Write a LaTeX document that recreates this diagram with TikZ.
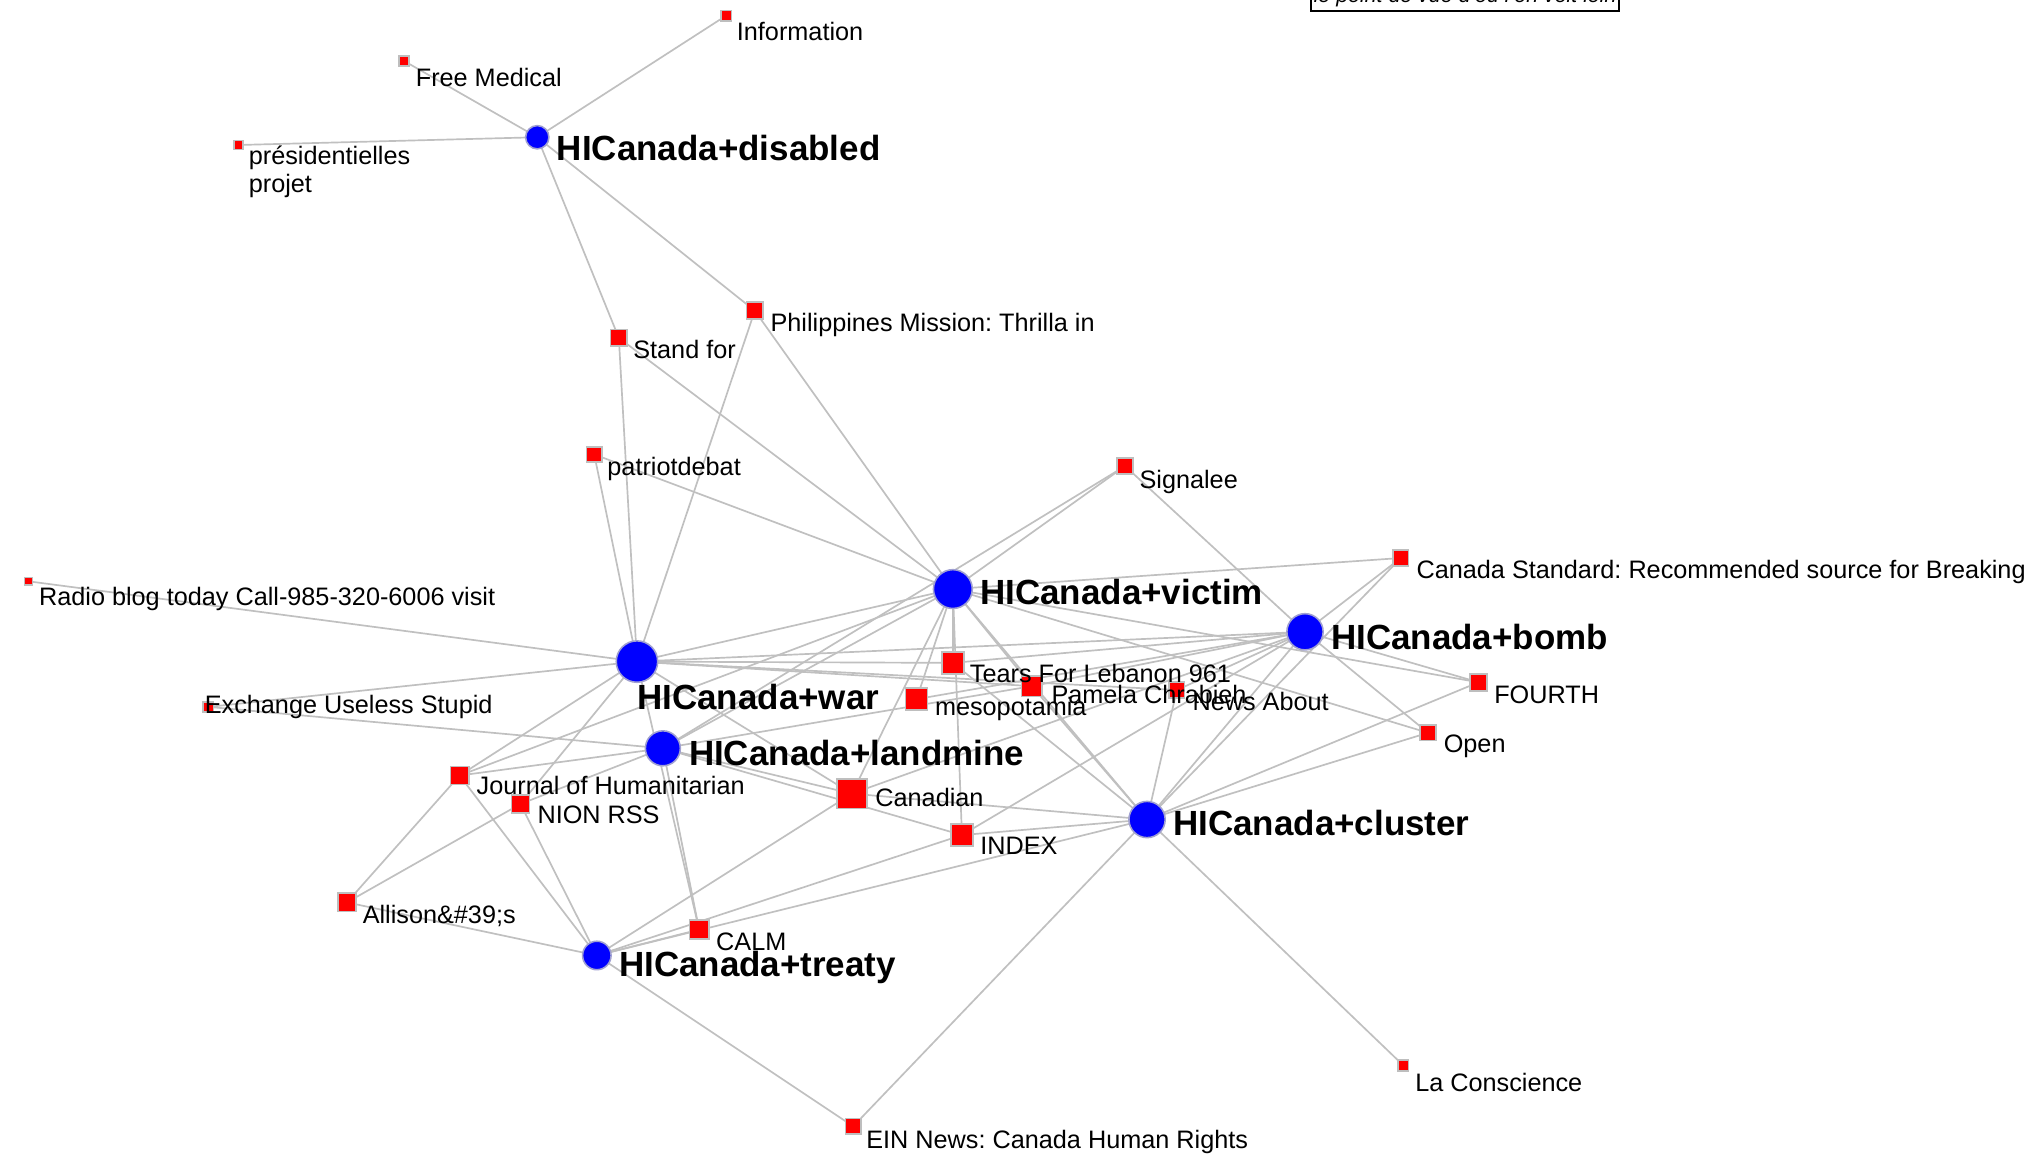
\documentclass[tikz,border=0pt]{standalone}
\usepackage{fontspec}
\setmainfont{Liberation Sans}
\usetikzlibrary{backgrounds}
\definecolor{edgegray}{RGB}{192,192,192}
\definecolor{hubblue}{RGB}{0,0,255}
\definecolor{hubrim}{RGB}{160,160,210}
\definecolor{sqred}{RGB}{255,0,0}
\definecolor{sqrim}{RGB}{190,190,190}
\tikzset{
  hub/.style={circle,fill=hubblue,draw=hubrim,line width=1.2pt,inner sep=0pt},
  sq/.style={rectangle,fill=sqred,draw=sqrim,line width=1.3pt,inner sep=0pt},
  lbl/.style={anchor=base west,inner sep=0pt,font=\fontsize{19.5}{22}\selectfont},
  hublbl/.style={anchor=base west,inner sep=0pt,font=\fontsize{27}{30}\selectfont\bfseries},
  edge/.style={draw=edgegray,line width=1.3pt}
}
\frenchspacing
\begin{document}
\begin{tikzpicture}[x=1pt,y=1pt]
\useasboundingbox (0,0) rectangle (1568,-892);
\clip (0,0) rectangle (1568,-892);
% hubs
\node[hub,minimum size=18] (disabled) at (415,-106) {};
\node[hub,minimum size=30] (victim) at (736,-455) {};
\node[hub,minimum size=28] (bomb) at (1008,-488) {};
\node[hub,minimum size=32] (war) at (492,-511) {};
\node[hub,minimum size=27] (landmine) at (512,-578) {};
\node[hub,minimum size=28] (cluster) at (886,-633) {};
\node[hub,minimum size=22] (treaty) at (461,-738) {};
% squares
\node[sq,minimum size=8] (info) at (561,-12) {};
\node[sq,minimum size=8] (freemed) at (312,-47) {};
\node[sq,minimum size=7] (presid) at (184,-112) {};
\node[sq,minimum size=13] (phil) at (583,-240) {};
\node[sq,minimum size=13] (standfor) at (478,-261) {};
\node[sq,minimum size=12] (patriot) at (459,-351) {};
\node[sq,minimum size=12] (signalee) at (869,-360) {};
\node[sq,minimum size=12] (canstd) at (1082,-431) {};
\node[sq,minimum size=6] (radio) at (22,-449) {};
\node[sq,minimum size=17] (tears) at (736,-512) {};
\node[sq,minimum size=17] (mesop) at (708,-540) {};
\node[sq,minimum size=16] (pamela) at (797,-530) {};
\node[sq,minimum size=12] (news) at (909,-533) {};
\node[sq,minimum size=13] (fourth) at (1142,-527) {};
\node[sq,minimum size=8] (exchange) at (161,-546) {};
\node[sq,minimum size=12] (open) at (1103,-566) {};
\node[sq,minimum size=14] (journal) at (355,-599) {};
\node[sq,minimum size=14] (nion) at (402,-621) {};
\node[sq,minimum size=23] (canadian) at (658,-613) {};
\node[sq,minimum size=17] (index) at (743,-645) {};
\node[sq,minimum size=14] (allison) at (268,-697) {};
\node[sq,minimum size=15] (calm) at (540,-718) {};
\node[sq,minimum size=8] (laconsc) at (1084,-823) {};
\node[sq,minimum size=12] (ein) at (659,-870) {};
% edges
\begin{pgfonlayer}{background}
\fill[white] (0,0) rectangle (1568,-892);
\foreach \a/\b in {
 disabled/info, disabled/freemed, disabled/presid, disabled/standfor, disabled/phil,
 war/radio, war/exchange, war/standfor, war/phil, war/patriot, war/tears, war/pamela, war/news,
 war/canadian, war/journal, war/nion, war/calm, war/victim,
 victim/standfor, victim/phil, victim/patriot, victim/signalee, victim/canstd, victim/tears,
 victim/mesop, victim/canadian, victim/index, victim/landmine, victim/journal, victim/fourth,
 victim/open, victim/cluster, victim/pamela,
 bomb/signalee, bomb/canstd, bomb/fourth, bomb/open, bomb/cluster, bomb/war, bomb/tears,
 bomb/mesop, bomb/pamela, bomb/news, bomb/canadian, bomb/index,
 cluster/canstd, cluster/news, cluster/fourth, cluster/open, cluster/tears, cluster/pamela,
 cluster/canadian, cluster/index, cluster/laconsc, cluster/ein,
 landmine/exchange, landmine/journal, landmine/nion, landmine/calm, landmine/canadian,
 landmine/index, landmine/pamela, landmine/signalee,
 treaty/allison, treaty/journal, treaty/nion, treaty/calm, treaty/canadian, treaty/index,
 treaty/cluster, treaty/ein,
 allison/journal, allison/nion}
 {\draw[edge] (\a.center) -- (\b.center);}
\end{pgfonlayer}
% labels
\node[lbl] (l-info) at (569,-31) {Information};
\node[lbl] (l-freemed) at (321,-67) {Free Medical};
\node[lbl] (l-presid) at (192,-127) {présidentielles};
\node[lbl] (l-presid2) at (192,-149) {projet};
\node[hublbl] (l-disabled) at (430,-124) {HICanada+disabled};
\node[lbl] (l-phil) at (595,-256) {Philippines Mission: Thrilla in};
\node[lbl] (l-standfor) at (489,-277) {Stand for};
\node[lbl] (l-patriot) at (469,-367) {patriotdebat};
\node[lbl] (l-signalee) at (880,-377) {Signalee};
\node[lbl] (l-canstd) at (1094,-447) {Canada Standard: Recommended source for Breaking};
\node[lbl] (l-radio) at (30,-468) {Radio blog today Call-985-320-6006 visit};
\node[hublbl] (l-victim) at (757,-467) {HICanada+victim};
\node[hublbl] (l-bomb) at (1028,-502) {HICanada+bomb};
\node[lbl] (l-tears) at (749,-527) {Tears For Lebanon 961};
\node[hublbl] (l-war) at (492,-548) {HICanada+war};
\node[lbl] (l-exchange) at (158,-551) {Exchange Useless Stupid};
\node[lbl] (l-pamela) at (812,-543) {Pamela Chrabieh};
\node[lbl] (l-news) at (921,-549) {News About};
\node[lbl] (l-mesop) at (722,-553) {mesopotamia};
\node[lbl] (l-fourth) at (1154,-543) {FOURTH};
\node[hublbl] (l-landmine) at (532,-591) {HICanada+landmine};
\node[lbl] (l-open) at (1115,-581) {Open};
\node[lbl] (l-journal) at (368,-614) {Journal of Humanitarian};
\node[lbl] (l-canadian) at (676,-623) {Canadian};
\node[lbl] (l-nion) at (415,-636) {NION RSS};
\node[hublbl] (l-cluster) at (906,-645) {HICanada+cluster};
\node[lbl] (l-index) at (757,-660) {INDEX};
\node[lbl] (l-allison) at (280,-713) {Allison\&\#39;s};
\node[lbl] (l-calm) at (553,-734) {CALM};
\node[hublbl] (l-treaty) at (478,-754) {HICanada+treaty};
\node[lbl] (l-laconsc) at (1093,-843) {La Conscience};
\node[lbl] (l-ein) at (669,-887) {EIN News: Canada Human Rights};
% top box
\node[draw=black,line width=1.5pt,fill=white,inner xsep=2pt,inner ysep=3pt,anchor=south west,
  font=\fontsize{16.5}{18}\selectfont\itshape] (topbox) at (1012,-9) {le point de vue d'où l'on voit loin};
\end{tikzpicture}
\end{document}
